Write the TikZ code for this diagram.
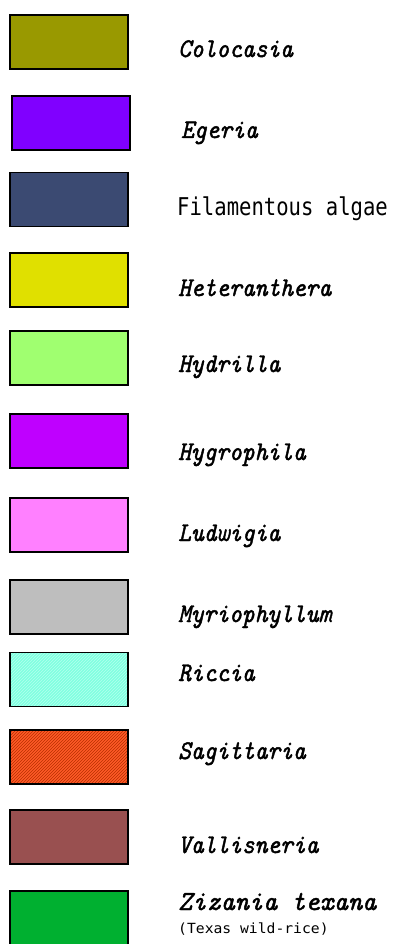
\documentclass[tikz,border=0pt]{standalone}
\usepackage{fontspec}
\usetikzlibrary{patterns}
\newfontfamily\cadfont{DejaVu Sans Mono}[FakeStretch=0.84]
\newfontfamily\cadsmallfont{DejaVu Sans Mono}[FakeStretch=1.05]
\newfontfamily\genusfont{lmmono10-italic.otf}[FakeBold=1.6, FakeStretch=0.9]
\newfontfamily\speciesfont{lmmono10-italic.otf}[FakeBold=1.6, FakeStretch=0.98]

\definecolor{colocasia}{HTML}{999900}
\definecolor{egeria}{HTML}{8000FF}
\definecolor{algae}{HTML}{3B4A72}
\definecolor{heteranthera}{HTML}{E0E000}
\definecolor{hydrilla}{HTML}{A0FF70}
\definecolor{hygrophila}{HTML}{BF00FF}
\definecolor{ludwigia}{HTML}{FF80FF}
\definecolor{myriophyllum}{HTML}{BEBEBE}
\definecolor{riccia}{HTML}{80FFE0}
\definecolor{ricciahatch}{HTML}{B4FFEE}
\definecolor{sagittaria}{HTML}{FF5A28}
\definecolor{sagittariahatch}{HTML}{B83000}
\definecolor{vallisneria}{HTML}{995050}
\definecolor{zizania}{HTML}{00B030}

\begin{document}
\begin{tikzpicture}[x=1pt, y=-1pt,
    swatch/.style={draw=black, line width=1.6pt, minimum width=118pt,
      minimum height=54pt, inner sep=0pt},
    genus/.style={anchor=base west, inner sep=0pt,
      font=\fontsize{27}{27}\selectfont\genusfont},
    plain/.style={anchor=base west, inner sep=0pt,
      font=\fontsize{24.5}{24.5}\selectfont\cadfont}]
  \useasboundingbox (0,0) rectangle (394,944);

  \node[swatch, fill=colocasia] (colocasia) at (69,42) {};
  \node[genus] (colocasia-txt) at (178,57) {Colocasia};

  \node[swatch, fill=egeria] (egeria) at (71,123) {};
  \node[genus] (egeria-txt) at (181,138) {Egeria};

  \node[swatch, fill=algae] (algae) at (69,199.5) {};
  \node[plain] (algae-txt) at (177,215) {Filamentous algae};

  \node[swatch, fill=heteranthera] (heteranthera) at (69,280) {};
  \node[genus] (heteranthera-txt) at (178,296) {Heteranthera};

  \node[swatch, fill=hydrilla] (hydrilla) at (69,358) {};
  \node[genus] (hydrilla-txt) at (178,372) {Hydrilla};

  \node[swatch, fill=hygrophila] (hygrophila) at (69,441) {};
  \node[genus] (hygrophila-txt) at (178,460) {Hygrophila};

  \node[swatch, fill=ludwigia] (ludwigia) at (69,525) {};
  \node[genus] (ludwigia-txt) at (178,541) {Ludwigia};

  \node[swatch, fill=myriophyllum] (myriophyllum) at (69,607) {};
  \node[genus] (myriophyllum-txt) at (178,622) {Myriophyllum};

  \node[swatch, preaction={fill=riccia}, pattern=north east lines,
    pattern color=ricciahatch] (riccia) at (69,679.5) {};
  \node[genus] (riccia-txt) at (178,681) {Riccia};

  \node[swatch, preaction={fill=sagittaria}, pattern=north east lines,
    pattern color=sagittariahatch] (sagittaria) at (69,757) {};
  \node[genus] (sagittaria-txt) at (178,759) {Sagittaria};

  \node[swatch, fill=vallisneria] (vallisneria) at (69,837) {};
  \node[genus] (vallisneria-txt) at (178,853) {Vallisneria};

  \node[swatch, fill=zizania] (zizania) at (69,918) {};
  \node[genus, font=\fontsize{27.5}{27.5}\selectfont\speciesfont]
    (zizania-txt) at (178,910) {Zizania texana};
  \node[plain, font=\fontsize{14}{14}\selectfont\cadsmallfont]
    (zizania-common) at (178,933) {(Texas wild-rice)};
\end{tikzpicture}
\end{document}
